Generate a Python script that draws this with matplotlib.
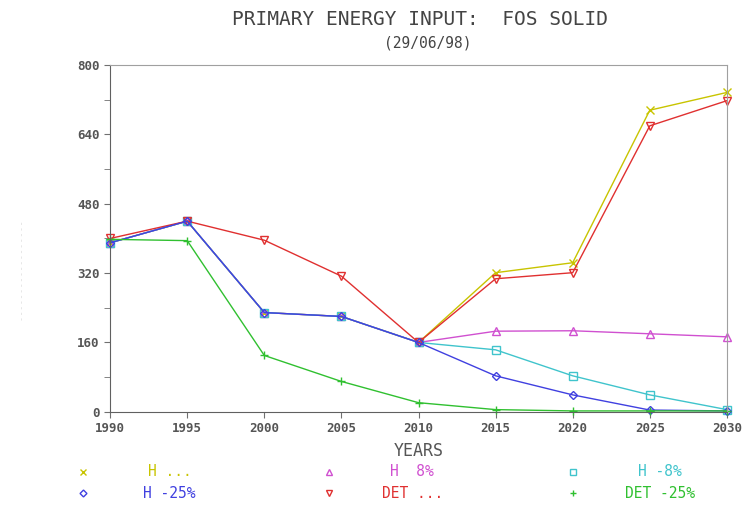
import matplotlib
matplotlib.use("Agg")
import matplotlib.pyplot as plt
from matplotlib.lines import Line2D

years = [1990, 1995, 2000, 2005, 2010, 2015, 2020, 2025, 2030]

h_base = [390, 440, 229, 220, 160, 321, 344, 696, 737]
h_p8 = [390, 440, 229, 220, 160, 186, 187, 180, 173]
h_m8 = [390, 440, 229, 220, 160, 143, 83, 39, 5]
h_m25 = [390, 440, 229, 220, 160, 83, 39, 4, 2]
det_base = [400, 440, 396, 313, 160, 307, 321, 660, 718]
det_m25 = [398, 395, 130, 70, 21, 5, 2, 2, 2]

labels = ["H ...", "H  8%", "H -8%", "H -25%", "DET ...", "DET -25%"]
colors = ["#c8c400", "#d050d0", "#40c4cc", "#4040e0", "#e03030", "#30c030"]
markers = ["x", "^", "s", "D", "v", "+"]
series = [h_base, h_p8, h_m8, h_m25, det_base, det_m25]

mono = "DejaVu Sans Mono"
fig = plt.figure(figsize=(7.44, 5.09), dpi=100)
ax = fig.add_axes([0.148, 0.191, 0.829, 0.681])

# draw order: yellow, magenta, cyan, red, blue, green
for i in [0, 1, 2, 4, 3, 5]:
    ms = 4 if markers[i] == "D" else 5.5
    ax.plot(years, series[i], color=colors[i], lw=1.0, marker=markers[i],
            ms=ms, mfc="none", mec=colors[i], mew=1.0, clip_on=False)

ax.set_xlim(1990, 2030)
ax.set_ylim(0, 800)
ax.set_xticks(years)
ax.set_yticks([0, 160, 320, 480, 640, 800])
ax.set_yticks([80, 240, 400, 560, 720], minor=True)
for s in ax.spines.values():
    s.set_color("#a0a0a0")
ax.spines["left"].set_color("#606060")
ax.spines["bottom"].set_color("#606060")
ax.tick_params(axis="both", which="both", direction="out", length=4,
               color="#707070", labelsize=9, labelcolor="#555555")
for t in ax.get_xticklabels() + ax.get_yticklabels():
    t.set_family(mono)
    t.set_weight("bold")
ax.set_xlabel("YEARS", family=mono, fontsize=12, color="#555555", labelpad=5)

fig.text(0.565, 0.962, "PRIMARY ENERGY INPUT:  FOS SOLID", family=mono,
         fontsize=14, color="#444444", ha="center", va="center")
fig.text(0.575, 0.915, "(29/06/98)", family=mono, fontsize=10.5,
         color="#444444", ha="center", va="center")
fig.text(0.03, 0.47, "- " * 18, rotation=90, fontsize=6, color="#e0e0e0",
         ha="center", va="center")

# legend below the axes, three columns
mx = [0.111, 0.442, 0.770]
tx = [0.228, 0.554, 0.887]
ty = [0.073, 0.031]
for k in range(6):
    r, c = k // 3, k % 3
    ms = 3.5 if markers[k] == "D" else 5
    fig.add_artist(Line2D([mx[c]], [ty[r]], marker=markers[k], ms=ms,
                          mfc="none", mec=colors[k], mew=1.0, ls="none",
                          transform=fig.transFigure))
    fig.text(tx[c], ty[r], labels[k], family=mono, fontsize=10.5,
             color=colors[k], ha="center", va="center")

fig.savefig("out.png", dpi=100)
